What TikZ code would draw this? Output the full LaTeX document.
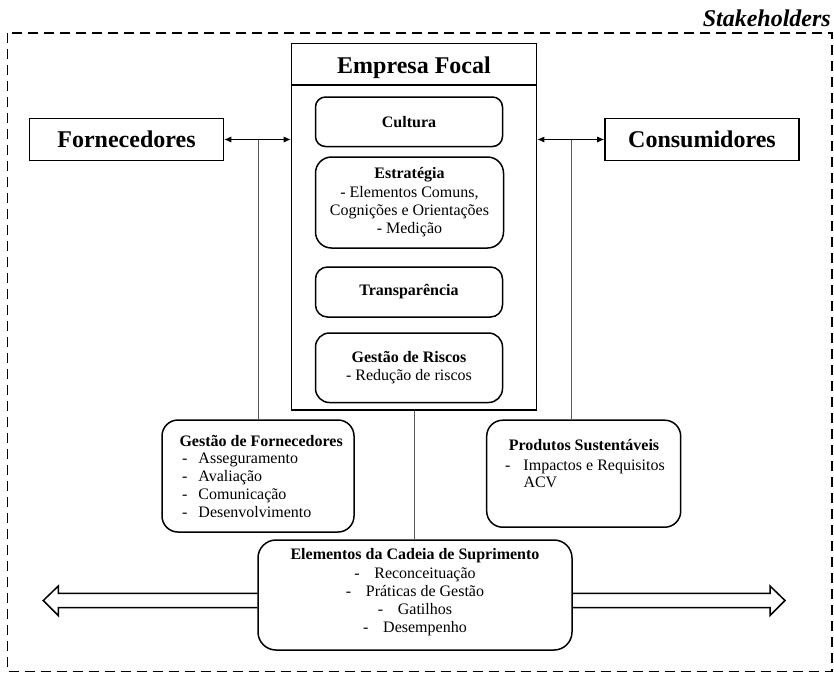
\documentclass[tikz,border=0pt]{standalone}
\usepackage{fontspec}
\setmainfont{Liberation Serif}
\usetikzlibrary{arrows.meta}
\tikzset{
  sqbox/.style={draw, line width=1.6pt, inner sep=0pt, align=center, font=\fontsize{24}{28}\selectfont\bfseries},
  rbox/.style={draw, line width=1.5pt, rounded corners=12pt, inner sep=0pt, align=center, font=\fontsize{16}{18.3}\selectfont},
  txt/.style={inner sep=0pt, font=\fontsize{16}{18}\selectfont},
  conn/.style={line width=0.8pt, {Latex[length=7pt,width=6pt]}-{Latex[length=7pt,width=6pt]}},
  vline/.style={line width=0.8pt, draw=black!65},
  bigarrow/.style={line width=1.5pt, line join=miter},
}
\begin{document}
\begin{tikzpicture}[x=1pt,y=-1pt]
\useasboundingbox (0,0) rectangle (834,673);
% outer stakeholder frame
\draw[line width=1.5pt, dash pattern=on 10pt off 6pt] (7.3,33) rectangle (832,671.7);
\node[txt, anchor=base east, font=\fontsize{24}{28}\selectfont\bfseries\itshape] (stk) at (831,26.7) {Stakeholders};

% focal company
\node[draw, line width=1.6pt, minimum width=245pt, minimum height=366.5pt, inner sep=0pt] (emp) at (414,226.75) {};
\coordinate (hl) at (0,85);
\draw[line width=1.6pt] (emp.west |- hl) -- (emp.east |- hl);
\node[txt, anchor=base, font=\fontsize{24}{28}\selectfont\bfseries] (ef) at (414,73) {Empresa Focal};

\node[rbox, minimum width=187pt, minimum height=49.5pt, rounded corners=10pt] (cul) at (409,121.75) {\textbf{Cultura}};
\node[rbox, minimum width=188pt, minimum height=91pt, rounded corners=16pt] (est) at (409.5,202.5) {\textbf{Estratégia}\\- Elementos Comuns,\\Cognições e Orientações\\- Medição};
\node[rbox, minimum width=187pt, minimum height=50pt] (tra) at (409,292) {\textbf{Transparência}};
\node[rbox, minimum width=187pt, minimum height=69.5pt, rounded corners=14pt] (gr) at (409,367.75) {\textbf{Gestão de Riscos}\\- Redução de riscos};

% suppliers / consumers
\node[sqbox, minimum width=194pt, minimum height=42pt] (forn) at (126.5,139.5) {Fornecedores};
\node[sqbox, minimum width=194pt, minimum height=42pt] (cons) at (702,139.5) {Consumidores};

% supplier management
\node[rbox, minimum width=192pt, minimum height=112pt, rounded corners=16pt] (gf) at (258,476) {};
\node[txt, anchor=base west] (gft) at (179.3,446) {\textbf{Gestão de Fornecedores}};
\node[txt, anchor=base west] (gf1) at (182,463.3) {\makebox[16.3pt][l]{-}Asseguramento};
\node[txt, anchor=base west] (gf2) at (182,481) {\makebox[16.3pt][l]{-}Avaliação};
\node[txt, anchor=base west] (gf3) at (182,499) {\makebox[16.3pt][l]{-}Comunicação};
\node[txt, anchor=base west] (gf4) at (182,517.3) {\makebox[16.3pt][l]{-}Desenvolvimento};

% sustainable products
\node[rbox, minimum width=194pt, minimum height=107pt, rounded corners=16pt] (ps) at (583.7,473.7) {};
\node[txt, anchor=base] (pst) at (584,450.7) {\textbf{Produtos Sustentáveis}};
\node[txt, anchor=base west] (ps1) at (505,470) {\makebox[18.3pt][l]{-}Impactos e Requisitos};
\node[txt, anchor=base west] (ps2) at (523.3,487.3) {ACV};

% supply chain elements
\node[rbox, minimum width=314pt, minimum height=110pt, rounded corners=18pt] (el) at (415,595) {};
\node[txt, anchor=base] (el0) at (415,559) {\textbf{Elementos da Cadeia de Suprimento}};
\node[txt, anchor=base] (el1) at (415,578) {\makebox[20pt][l]{-}Reconceituação};
\node[txt, anchor=base] (el2) at (415,596) {\makebox[20pt][l]{-}Práticas de Gestão};
\node[txt, anchor=base] (el3) at (415,614) {\makebox[20pt][l]{-}Gatilhos};
\node[txt, anchor=base] (el4) at (415,632) {\makebox[20pt][l]{-}Desempenho};

% connectors
\draw[conn] (forn.east) -- (forn.east -| emp.west);
\draw[conn] (emp.east |- cons.west) -- (cons.west);
\draw[vline] (gf.north |- forn.east) -- (gf.north);
\coordinate (rj) at (571.7,139.5);
\draw[vline] (rj) -- (rj |- ps.north);
\draw[vline] (emp.south) -- (emp.south |- el.north);

% big double arrows
\coordinate (at) at (0,593.3);
\coordinate (ab) at (0,607.7);
\draw[bigarrow] (el.west |- at) -- (58.3,593.3) -- (58.3,586) -- (43.3,600.5) -- (58.3,615.5) -- (58.3,607.7) -- (el.west |- ab);
\draw[bigarrow] (el.east |- at) -- (770,593.3) -- (770,586) -- (785,600.5) -- (770,615.5) -- (770,607.7) -- (el.east |- ab);
\end{tikzpicture}
\end{document}
